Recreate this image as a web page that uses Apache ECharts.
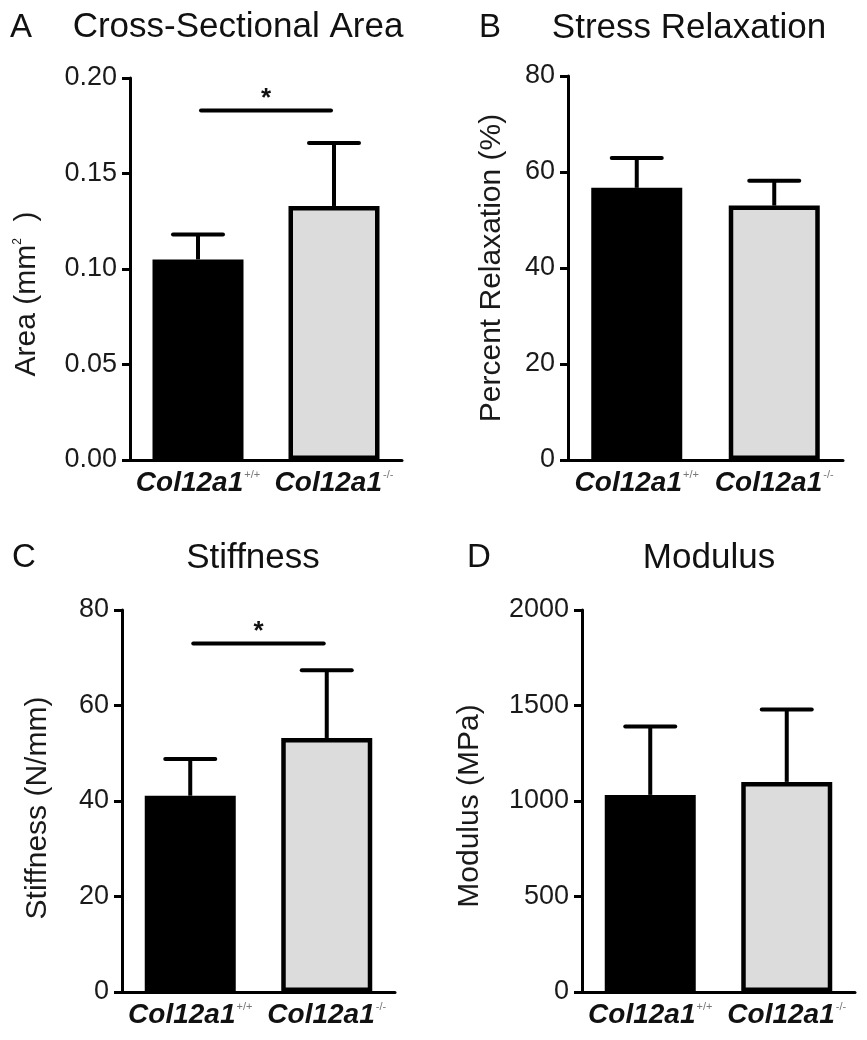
<!DOCTYPE html>
<html>
<head>
<meta charset="utf-8">
<script src="https://cdn.jsdelivr.net/npm/echarts@6/dist/echarts.min.js"></script>
<style>
  html, body { margin: 0; padding: 0; background: #fff; }
  #chart { width: 867px; height: 1040px; }
</style>
</head>
<body>
<div id="chart"></div>
<script>
// ---------------- data ----------------
const geneName = 'Col12a1';
const genotypes = ['+/+', '-/-'];

const panelLetters = ['A', 'B', 'C', 'D'];
const panelTitles = ['Cross-Sectional Area', 'Stress Relaxation', 'Stiffness', 'Modulus'];
const yAxisNames = ['Area (mm{s|2}  )', 'Percent Relaxation (%)', 'Stiffness (N/mm)', 'Modulus (MPa)'];

const areaMean = [0.105, 0.133];
const areaErr = [0.013, 0.033];
const relaxMean = [56.7, 53.0];
const relaxErr = [6.2, 5.2];
const stiffMean = [41.1, 53.2];
const stiffErr = [7.7, 14.2];
const modMean = [1032, 1100];
const modErr = [358, 379];

const areaTicks = [0, 0.05, 0.10, 0.15, 0.20];
const relaxTicks = [0, 20, 40, 60, 80];
const stiffTicks = [0, 20, 40, 60, 80];
const modTicks = [0, 500, 1000, 1500, 2000];

const areaSig = 0.183;   // significance bar level (panel A)
const stiffSig = 73;     // significance bar level (panel C)
const sigMark = '*';

// ---------------- layout ----------------
const FONT = '"Liberation Sans", Arial, Helvetica, sans-serif';
const grids = [
  { left: 130, top: 78, width: 272, height: 382 },
  { left: 568, top: 76, width: 275, height: 384 },
  { left: 122, top: 610, width: 273, height: 382 },
  { left: 582, top: 610, width: 273, height: 382 }
];
const nameGaps = [88, 61, 69, 97];
const namePads = [[0, 50, 0, 0], [0, 0, 0, 0], [0, 14, 0, 0], [0, 10, 0, 0]];
const tickSets = [areaTicks, relaxTicks, stiffTicks, modTicks];
const means = [areaMean, relaxMean, stiffMean, modMean];
const errs = [areaErr, relaxErr, stiffErr, modErr];
const sigs = [areaSig, null, stiffSig, null];
const decimals = [2, 0, 0, 0];

const BLACK = '#000000';
const GRAY = '#dcdcdc';

function catLabel(i) {
  return '{i|' + geneName + '}{s|' + genotypes[i] + '}';
}

const xAxes = [], yAxes = [], series = [];
grids.forEach((g, k) => {
  const ticks = tickSets[k];
  xAxes.push({
    type: 'category', gridIndex: k, data: genotypes.map((_, i) => i),
    axisLine: { show: true, lineStyle: { color: BLACK, width: 3 } },
    axisTick: { show: false },
    axisLabel: {
      margin: 9,
      formatter: (v) => catLabel(Number(v)),
      rich: {
        i: { fontFamily: FONT, fontSize: 28, fontWeight: 'bold', fontStyle: 'italic', color: '#111' },
        s: { fontFamily: FONT, fontSize: 11, color: '#777', verticalAlign: 'top', padding: [0, 0, 14, 1] }
      }
    },
    splitLine: { show: false }
  });
  yAxes.push({
    type: 'value', gridIndex: k,
    min: ticks[0], max: ticks[ticks.length - 1], interval: ticks[1] - ticks[0],
    axisLine: { show: true, lineStyle: { color: BLACK, width: 3 } },
    axisTick: { show: true, length: 8, lineStyle: { color: BLACK, width: 3 } },
    axisLabel: {
      margin: 13, fontFamily: FONT, fontSize: 27, color: '#1a1a1a',
      formatter: (v) => Number(v).toFixed(decimals[k])
    },
    splitLine: { show: false },
    name: yAxisNames[k], nameLocation: 'middle', nameGap: nameGaps[k],
    nameTextStyle: {
      fontFamily: FONT, fontSize: 30, color: '#1a1a1a', padding: namePads[k],
      rich: { s: { fontFamily: FONT, fontSize: 12, color: '#1a1a1a', verticalAlign: 'top', padding: [0, 0, 14, 0] } }
    }
  });

  // bars
  series.push({
    type: 'bar', xAxisIndex: k, yAxisIndex: k, barWidth: 91, z: 2,
    data: means[k].map((m, i) => ({
      value: m,
      itemStyle: i === 0
        ? { color: BLACK, borderWidth: 0 }
        : { color: GRAY, borderColor: BLACK, borderWidth: 4.5 }
    })),
    silent: true
  });

  // error bars (upper only)
  series.push({
    type: 'custom', xAxisIndex: k, yAxisIndex: k, z: 3, silent: true,
    encode: { x: 0, y: [1, 2] },
    data: means[k].map((m, i) => [i, m, m + errs[k][i]]),
    renderItem: (params, api) => {
      const x = api.value(0);
      const p0 = api.coord([x, api.value(1)]);
      const p1 = api.coord([x, api.value(2)]);
      const half = 25;
      return {
        type: 'group',
        children: [
          { type: 'line', shape: { x1: p0[0], y1: p0[1], x2: p1[0], y2: p1[1] },
            style: { stroke: BLACK, lineWidth: 4 } },
          { type: 'line', shape: { x1: p1[0] - half, y1: p1[1], x2: p1[0] + half, y2: p1[1] },
            style: { stroke: BLACK, lineWidth: 4, lineCap: 'round' } }
        ]
      };
    }
  });

  // significance bar
  if (sigs[k] !== null) {
    series.push({
      type: 'custom', xAxisIndex: k, yAxisIndex: k, z: 3, silent: true,
      encode: { x: 0, y: 2 },
      data: [[0, 1, sigs[k]]],
      renderItem: (params, api) => {
        const a = api.coord([api.value(0), api.value(2)]);
        const b = api.coord([api.value(1), api.value(2)]);
        const mid = (a[0] + b[0]) / 2;
        return {
          type: 'group',
          children: [
            { type: 'line', shape: { x1: a[0] + 3, y1: a[1], x2: b[0] - 3, y2: b[1] },
              style: { stroke: BLACK, lineWidth: 4, lineCap: 'round' } },
            { type: 'text', x: mid, y: a[1] - 12,
              style: { text: sigMark, fontFamily: FONT, fontSize: 26, fontWeight: 'bold',
                       fill: '#111', align: 'center', verticalAlign: 'middle' } }
          ]
        };
      }
    });
  }
});

const letterPos = [[10, 28], [479, 28], [12, 558], [467, 558]];
const titlePos = [[238, 27], [689, 28], [253, 558], [709, 558]];
const graphics = [];
panelLetters.forEach((L, k) => {
  graphics.push({
    type: 'text', x: letterPos[k][0], y: letterPos[k][1],
    style: { text: L, fontFamily: FONT, fontSize: 33, fill: '#111',
             align: 'left', verticalAlign: 'middle' }
  });
  graphics.push({
    type: 'text', x: titlePos[k][0], y: titlePos[k][1],
    style: { text: panelTitles[k], fontFamily: FONT, fontSize: 35, fill: '#111',
             align: 'center', verticalAlign: 'middle' }
  });
});

const chart = echarts.init(document.getElementById('chart'), null, { renderer: 'canvas' });
chart.setOption({
  backgroundColor: '#ffffff',
  animation: false,
  grid: grids.map(g => Object.assign({ containLabel: false }, g)),
  xAxis: xAxes,
  yAxis: yAxes,
  series: series,
  graphic: graphics
});
</script>
</body>
</html>
